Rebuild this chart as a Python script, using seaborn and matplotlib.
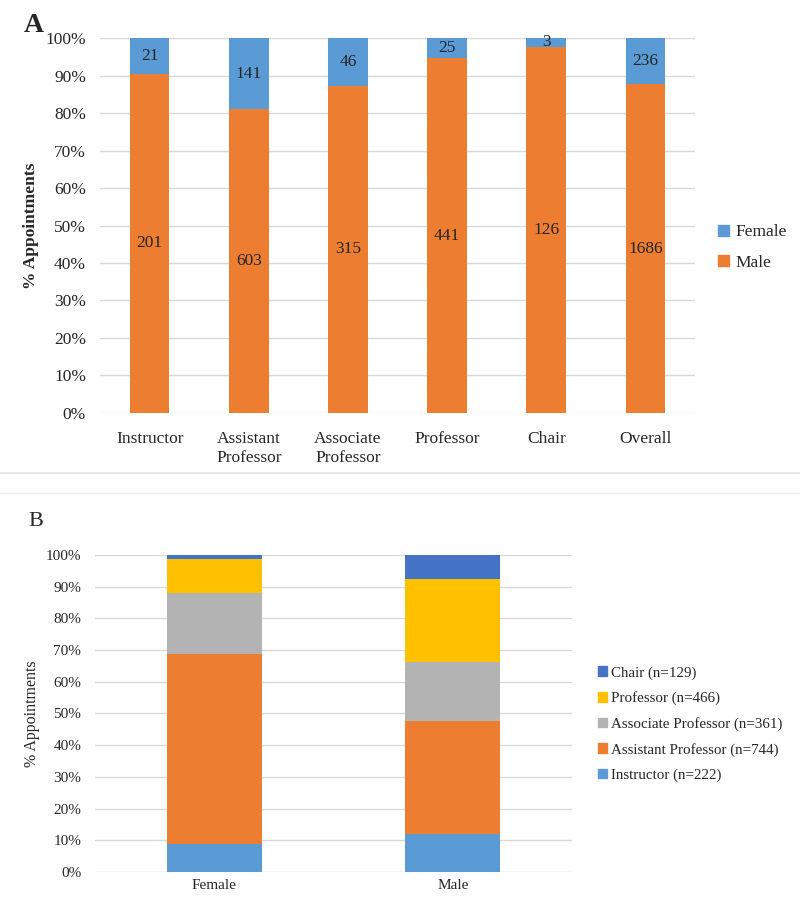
import numpy as np
import pandas as pd
import matplotlib
matplotlib.use("Agg")
import matplotlib.pyplot as plt
import seaborn as sns
from matplotlib.patches import Patch
from matplotlib.lines import Line2D

sns.set_theme(style="white")
plt.rcParams['font.family'] = ['Liberation Serif', 'DejaVu Serif']

# ---- data ----
ranks = ["Instructor", "Assistant Professor", "Associate Professor", "Professor", "Chair"]
rank_ticklabels = ["Instructor", "Assistant\nProfessor", "Associate\nProfessor", "Professor", "Chair", "Overall"]
female_counts = [21, 141, 46, 25, 3]
male_counts = [201, 603, 315, 441, 126]
sexes = ["Female", "Male"]

orange = "#ED7D31"
blue = "#5B9BD5"
rank_colors = ["#5B9BD5", "#ED7D31", "#B3B3B3", "#FFC000", "#4472C4"]
grid_col = "#D9D9D9"

fig = plt.figure(figsize=(8, 8.97), dpi=100)

# ---------------- Panel A ----------------
axA = fig.add_axes([0.125, 0.5396, 0.74375, 0.418])
cats = rank_ticklabels
fem = np.array(female_counts + [sum(female_counts)], dtype=float)
mal = np.array(male_counts + [sum(male_counts)], dtype=float)
tot = fem + mal
male_pct = mal / tot * 100
fem_pct = fem / tot * 100
dfA = pd.DataFrame({"cat": cats, "male": male_pct, "female": fem_pct})

sns.barplot(data=dfA, x="cat", y="male", color=orange, width=0.4, ax=axA,
            saturation=1, zorder=3, linewidth=0)
sns.barplot(data=dfA, x="cat", y="female", color=blue, width=0.4, ax=axA,
            saturation=1, zorder=3, linewidth=0, bottom=dfA["male"].values)

for i in range(len(cats)):
    axA.text(i, male_pct[i] / 2, f"{int(mal[i])}", ha="center", va="center",
             fontsize=12.5, zorder=4)
    axA.text(i, male_pct[i] + fem_pct[i] / 2, f"{int(fem[i])}", ha="center", va="center",
             fontsize=12.5, zorder=4)

axA.set_ylim(0, 100)
axA.set_xlim(-0.5, len(cats) - 0.5)
axA.set_yticks(np.arange(0, 101, 10))
axA.set_yticklabels([f"{v}%" for v in range(0, 101, 10)], fontsize=12.5)
axA.set_xticks(range(len(cats)))
axA.set_xticklabels(cats, fontsize=12.5, linespacing=1.25)
axA.set_xlabel("")
axA.set_ylabel("% Appointments", fontsize=12.5, fontweight="bold", labelpad=5)
axA.yaxis.grid(True, color=grid_col, linewidth=1, zorder=0)
axA.set_axisbelow(True)
for s in axA.spines.values():
    s.set_visible(False)
axA.tick_params(axis="y", length=0, pad=10)
axA.tick_params(axis="x", length=0, pad=13)
axA.legend(handles=[Patch(color=blue, label="Female"), Patch(color=orange, label="Male")],
           loc="center left", bbox_to_anchor=(1.013, 0.441), frameon=False,
           fontsize=12.5, handlelength=0.6, handleheight=0.6, handletextpad=0.4,
           labelspacing=0.85)
fig.text(0.03, 0.985, "A", fontsize=20, fontweight="bold", va="top")

# separator lines
fig.add_artist(Line2D([0, 1], [1 - 473 / 897, 1 - 473 / 897], color="#E3E3E3", lw=1.2))
fig.add_artist(Line2D([0, 1], [1 - 493 / 897, 1 - 493 / 897], color="#EDEDED", lw=1.0))

# ---------------- Panel B ----------------
axB = fig.add_axes([0.119, 0.0279, 0.596, 0.3534])
counts_by_sex = {"Female": female_counts, "Male": male_counts}
bottom = np.zeros(2)
for j, r in enumerate(ranks):
    vals = np.array([counts_by_sex[s][j] / sum(counts_by_sex[s]) * 100 for s in sexes])
    dfB = pd.DataFrame({"sex": sexes, "pct": vals})
    sns.barplot(data=dfB, x="sex", y="pct", color=rank_colors[j], width=0.4, ax=axB,
                saturation=1, zorder=3, linewidth=0, bottom=bottom.copy())
    bottom = bottom + vals

axB.set_ylim(0, 100)
axB.set_xlim(-0.5, 1.5)
axB.set_yticks(np.arange(0, 101, 10))
axB.set_yticklabels([f"{v}%" for v in range(0, 101, 10)], fontsize=11)
axB.set_xticks([0, 1])
axB.set_xticklabels(sexes, fontsize=11)
axB.set_xlabel("")
axB.set_ylabel("% Appointments", fontsize=11.5, labelpad=4)
axB.yaxis.grid(True, color=grid_col, linewidth=1, zorder=0)
axB.set_axisbelow(True)
for s in axB.spines.values():
    s.set_visible(False)
axB.tick_params(axis="y", length=0, pad=10)
axB.tick_params(axis="x", length=0, pad=5)
handles = [Patch(color=rank_colors[j], label=f"{ranks[j]} (n={female_counts[j] + male_counts[j]})")
           for j in range(len(ranks))][::-1]
axB.legend(handles=handles, loc="center left", bbox_to_anchor=(1.027, 0.467), frameon=False,
           fontsize=10.8, handlelength=0.6, handleheight=0.6, handletextpad=0.25,
           labelspacing=0.78)
fig.text(0.035, 1 - 522 / 897, "B", fontsize=16, va="center")

fig.savefig("out.png", dpi=100)
